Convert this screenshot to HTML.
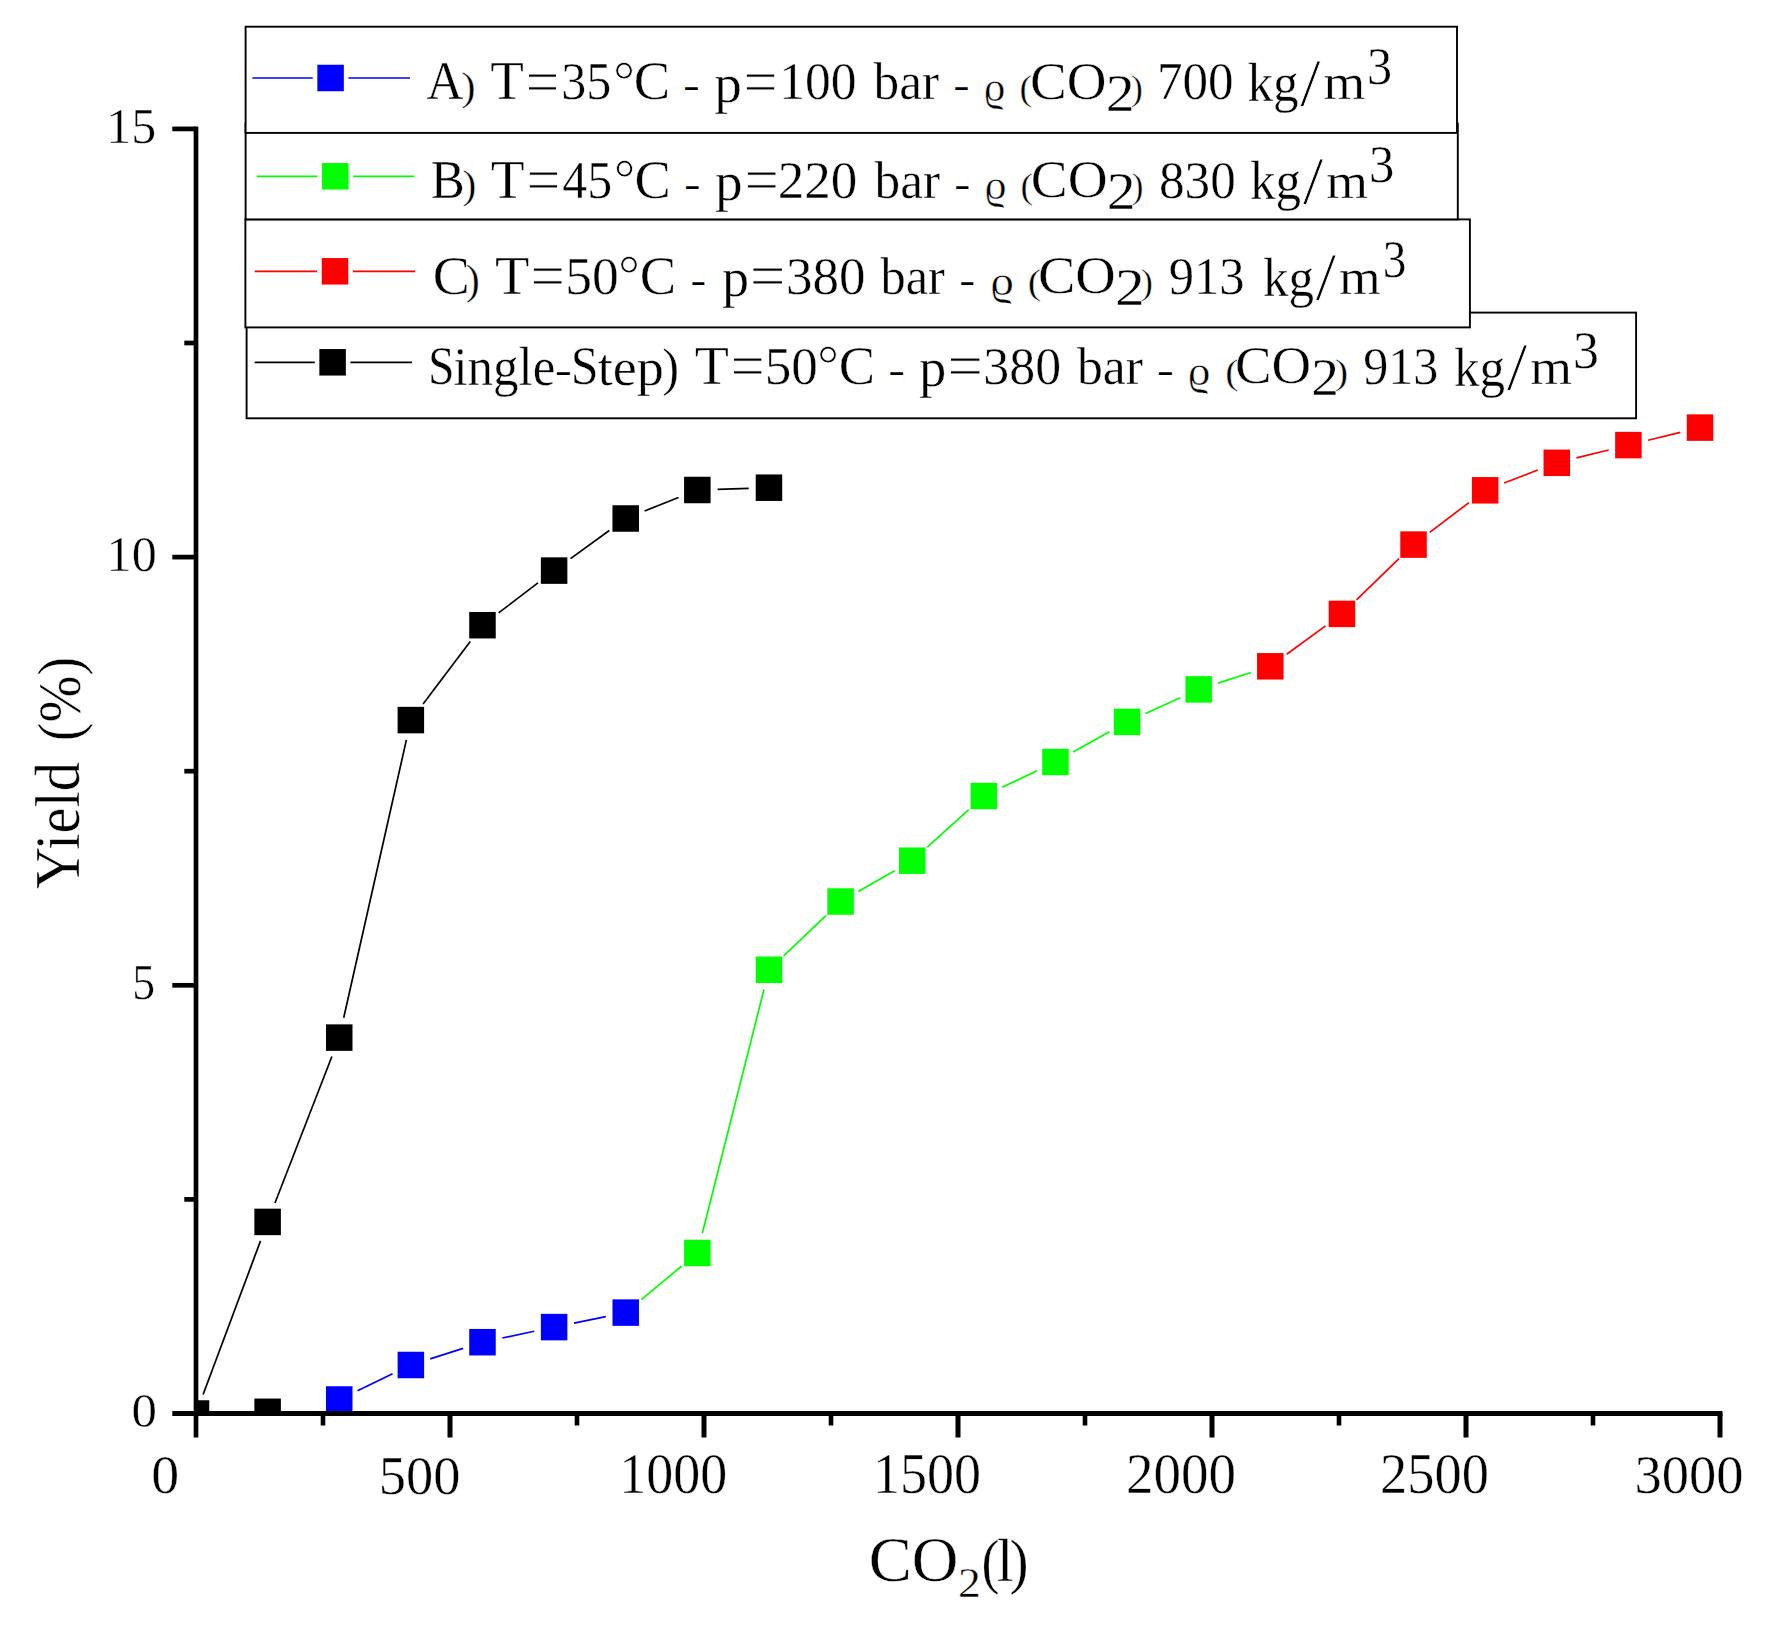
<!DOCTYPE html>
<html lang="en"><head><meta charset="utf-8"><title>Yield vs CO2</title>
<style>html,body{margin:0;padding:0;background:#fff}svg{display:block}text{font-family:"Liberation Serif", serif;vector-effect:non-scaling-stroke}</style>
</head><body>
<svg width="1771" height="1628" viewBox="0 0 1771 1628" font-family='"Liberation Serif", serif' fill="#000">
<rect width="1771" height="1628" fill="#fff"/>
<defs><clipPath id="plot"><rect x="196.0" y="0" width="1600" height="1413.5"/></clipPath></defs>
<g clip-path="url(#plot)">
<line x1="203.11" y1="1394.49" x2="260.51" y2="1240.91" stroke="#000000" stroke-width="1.7"/>
<line x1="274.97" y1="1202.98" x2="331.89" y2="1056.52" stroke="#000000" stroke-width="1.7"/>
<line x1="343.71" y1="1017.80" x2="406.39" y2="739.90" stroke="#000000" stroke-width="1.7"/>
<line x1="423.09" y1="703.90" x2="470.25" y2="641.40" stroke="#000000" stroke-width="1.7"/>
<line x1="498.62" y1="612.89" x2="537.96" y2="582.91" stroke="#000000" stroke-width="1.7"/>
<line x1="570.52" y1="558.66" x2="609.30" y2="530.44" stroke="#000000" stroke-width="1.7"/>
<line x1="644.58" y1="510.99" x2="678.48" y2="497.51" stroke="#000000" stroke-width="1.7"/>
<line x1="717.63" y1="489.35" x2="748.67" y2="488.35" stroke="#000000" stroke-width="1.7"/>
<line x1="357.53" y1="1390.69" x2="392.57" y2="1373.81" stroke="#0000ff" stroke-width="1.7"/>
<line x1="430.20" y1="1358.84" x2="463.14" y2="1348.36" stroke="#0000ff" stroke-width="1.7"/>
<line x1="502.34" y1="1338.01" x2="534.24" y2="1331.29" stroke="#0000ff" stroke-width="1.7"/>
<line x1="574.00" y1="1323.07" x2="605.82" y2="1316.63" stroke="#0000ff" stroke-width="1.7"/>
<line x1="641.32" y1="1299.61" x2="681.74" y2="1265.99" stroke="#00ff00" stroke-width="1.7"/>
<line x1="702.32" y1="1233.32" x2="763.98" y2="989.48" stroke="#00ff00" stroke-width="1.7"/>
<line x1="783.65" y1="955.79" x2="825.89" y2="915.51" stroke="#00ff00" stroke-width="1.7"/>
<line x1="858.22" y1="891.45" x2="894.56" y2="870.75" stroke="#00ff00" stroke-width="1.7"/>
<line x1="927.26" y1="847.09" x2="968.76" y2="809.61" stroke="#00ff00" stroke-width="1.7"/>
<line x1="1002.16" y1="787.29" x2="1037.10" y2="770.71" stroke="#00ff00" stroke-width="1.7"/>
<line x1="1073.15" y1="752.08" x2="1109.35" y2="731.82" stroke="#00ff00" stroke-width="1.7"/>
<line x1="1145.55" y1="713.51" x2="1180.19" y2="697.79" stroke="#00ff00" stroke-width="1.7"/>
<line x1="1218.00" y1="683.17" x2="1250.98" y2="672.53" stroke="#00ff00" stroke-width="1.7"/>
<line x1="1286.68" y1="654.31" x2="1325.54" y2="625.89" stroke="#ff0000" stroke-width="1.7"/>
<line x1="1356.51" y1="599.78" x2="1398.95" y2="558.72" stroke="#ff0000" stroke-width="1.7"/>
<line x1="1429.72" y1="532.34" x2="1468.98" y2="502.56" stroke="#ff0000" stroke-width="1.7"/>
<line x1="1504.11" y1="483.02" x2="1537.83" y2="470.08" stroke="#ff0000" stroke-width="1.7"/>
<line x1="1576.49" y1="457.93" x2="1608.69" y2="449.97" stroke="#ff0000" stroke-width="1.7"/>
<line x1="1648.12" y1="440.28" x2="1680.30" y2="432.42" stroke="#ff0000" stroke-width="1.7"/>
<rect x="182.75" y="1400.25" width="26.5" height="26.5" fill="#000000"/>
<rect x="254.37" y="1208.65" width="26.5" height="26.5" fill="#000000"/>
<rect x="325.99" y="1024.35" width="26.5" height="26.5" fill="#000000"/>
<rect x="397.61" y="706.85" width="26.5" height="26.5" fill="#000000"/>
<rect x="469.23" y="611.95" width="26.5" height="26.5" fill="#000000"/>
<rect x="540.85" y="557.35" width="26.5" height="26.5" fill="#000000"/>
<rect x="612.47" y="505.25" width="26.5" height="26.5" fill="#000000"/>
<rect x="684.09" y="476.75" width="26.5" height="26.5" fill="#000000"/>
<rect x="755.71" y="474.45" width="26.5" height="26.5" fill="#000000"/>
<rect x="254.37" y="1398.55" width="26.5" height="26.5" fill="#000000"/>
<rect x="325.99" y="1386.25" width="26.5" height="26.5" fill="#0000ff"/>
<rect x="397.61" y="1351.75" width="26.5" height="26.5" fill="#0000ff"/>
<rect x="469.23" y="1328.95" width="26.5" height="26.5" fill="#0000ff"/>
<rect x="540.85" y="1313.85" width="26.5" height="26.5" fill="#0000ff"/>
<rect x="612.47" y="1299.35" width="26.5" height="26.5" fill="#0000ff"/>
<rect x="684.09" y="1239.75" width="26.5" height="26.5" fill="#00ff00"/>
<rect x="755.71" y="956.55" width="26.5" height="26.5" fill="#00ff00"/>
<rect x="827.33" y="888.25" width="26.5" height="26.5" fill="#00ff00"/>
<rect x="898.95" y="847.45" width="26.5" height="26.5" fill="#00ff00"/>
<rect x="970.57" y="782.75" width="26.5" height="26.5" fill="#00ff00"/>
<rect x="1042.19" y="748.75" width="26.5" height="26.5" fill="#00ff00"/>
<rect x="1113.81" y="708.65" width="26.5" height="26.5" fill="#00ff00"/>
<rect x="1185.43" y="676.15" width="26.5" height="26.5" fill="#00ff00"/>
<rect x="1257.05" y="653.05" width="26.5" height="26.5" fill="#ff0000"/>
<rect x="1328.67" y="600.65" width="26.5" height="26.5" fill="#ff0000"/>
<rect x="1400.29" y="531.35" width="26.5" height="26.5" fill="#ff0000"/>
<rect x="1471.91" y="477.05" width="26.5" height="26.5" fill="#ff0000"/>
<rect x="1543.53" y="449.55" width="26.5" height="26.5" fill="#ff0000"/>
<rect x="1615.15" y="431.85" width="26.5" height="26.5" fill="#ff0000"/>
<rect x="1686.77" y="414.35" width="26.5" height="26.5" fill="#ff0000"/>
</g>
<g>
<rect x="193.65" y="126.55" width="4.7" height="1310.95" fill="#000"/>
<rect x="172.3" y="1411.00" width="1550.20" height="5" fill="#000"/>
<rect x="172.3" y="982.95" width="23.70" height="4.7" fill="#000"/>
<rect x="172.3" y="554.75" width="23.70" height="4.7" fill="#000"/>
<rect x="172.3" y="126.55" width="23.70" height="4.7" fill="#000"/>
<rect x="184.3" y="1197.05" width="11.70" height="4.7" fill="#000"/>
<rect x="184.3" y="768.85" width="11.70" height="4.7" fill="#000"/>
<rect x="184.3" y="340.65" width="11.70" height="4.7" fill="#000"/>
<rect x="447.50" y="1413.50" width="5" height="24.00" fill="#000"/>
<rect x="701.50" y="1413.50" width="5" height="24.00" fill="#000"/>
<rect x="955.50" y="1413.50" width="5" height="24.00" fill="#000"/>
<rect x="1209.50" y="1413.50" width="5" height="24.00" fill="#000"/>
<rect x="1463.50" y="1413.50" width="5" height="24.00" fill="#000"/>
<rect x="1717.50" y="1413.50" width="5" height="24.00" fill="#000"/>
<rect x="320.70" y="1413.50" width="4.6" height="12.00" fill="#000"/>
<rect x="574.70" y="1413.50" width="4.6" height="12.00" fill="#000"/>
<rect x="828.70" y="1413.50" width="4.6" height="12.00" fill="#000"/>
<rect x="1082.70" y="1413.50" width="4.6" height="12.00" fill="#000"/>
<rect x="1336.70" y="1413.50" width="4.6" height="12.00" fill="#000"/>
<rect x="1590.70" y="1413.50" width="4.6" height="12.00" fill="#000"/>
</g>
<g>
<rect x="246.6" y="312.6" width="1389.50" height="105.70" fill="#fff" stroke="#000" stroke-width="1.9"/>
<rect x="245.4" y="219.4" width="1224.50" height="108.00" fill="#fff" stroke="#000" stroke-width="1.9"/>
<rect x="245.6" y="123.5" width="1212.20" height="95.90" fill="#fff" stroke="#000" stroke-width="1.9"/>
<rect x="245.6" y="26.7" width="1211.40" height="106.20" fill="#fff" stroke="#000" stroke-width="1.9"/>
<line x1="252.4" y1="78.0" x2="312.75" y2="78.0" stroke="#0000ff" stroke-width="1.7"/><line x1="348.45" y1="78.0" x2="410.0" y2="78.0" stroke="#0000ff" stroke-width="1.7"/><rect x="317.35" y="64.75" width="26.5" height="26.5" fill="#0000ff"/>
<line x1="256.7" y1="176.3" x2="317.45" y2="176.3" stroke="#00ff00" stroke-width="1.7"/><line x1="353.15" y1="176.3" x2="414.2" y2="176.3" stroke="#00ff00" stroke-width="1.7"/><rect x="322.05" y="163.05" width="26.5" height="26.5" fill="#00ff00"/>
<line x1="254.7" y1="271.3" x2="317.15" y2="271.3" stroke="#ff0000" stroke-width="1.7"/><line x1="352.85" y1="271.3" x2="415.3" y2="271.3" stroke="#ff0000" stroke-width="1.7"/><rect x="321.75" y="258.05" width="26.5" height="26.5" fill="#ff0000"/>
<line x1="254.7" y1="362.3" x2="314.75" y2="362.3" stroke="#000000" stroke-width="1.7"/><line x1="350.45" y1="362.3" x2="411.9" y2="362.3" stroke="#000000" stroke-width="1.7"/><rect x="319.35" y="349.05" width="26.5" height="26.5" fill="#000000"/>
</g>
<g style="white-space:pre" stroke="#fff" stroke-width="0.4" vector-effect="non-scaling-stroke">
<text><tspan x="426.60" y="99.40" font-size="54.60" textLength="36.86" lengthAdjust="spacingAndGlyphs">A</tspan><tspan x="461.31" y="100.18" font-size="40.11" textLength="14.34" lengthAdjust="spacingAndGlyphs">)</tspan> <tspan x="490.20" y="99.40" font-size="54.60" textLength="33.65" lengthAdjust="spacingAndGlyphs">T</tspan><tspan x="525.49" y="103.07" font-size="63.20" textLength="33.96" lengthAdjust="spacingAndGlyphs" stroke-width="1.0">=</tspan><tspan x="561.30" y="99.40" font-size="52.60" textLength="50.04" lengthAdjust="spacingAndGlyphs">35</tspan><tspan x="613.14" y="98.54" font-size="55.67" textLength="21.62" lengthAdjust="spacingAndGlyphs" stroke-width="0.8">°</tspan><tspan x="633.80" y="99.40" font-size="54.60" textLength="36.41" lengthAdjust="spacingAndGlyphs">C</tspan> <tspan x="683.23" y="97.30" font-size="35.00" textLength="16.28" lengthAdjust="spacingAndGlyphs" stroke-width="0.01">-</tspan> <tspan x="714.25" y="101.50" font-size="55.22" textLength="27.61" lengthAdjust="spacingAndGlyphs">p</tspan><tspan x="743.15" y="103.07" font-size="63.20" textLength="34.54" lengthAdjust="spacingAndGlyphs" stroke-width="1.0">=</tspan><tspan x="779.18" y="99.40" font-size="52.60" textLength="77.40" lengthAdjust="spacingAndGlyphs">100</tspan> <tspan x="873.50" y="99.37" font-size="52.86" textLength="65.45" lengthAdjust="spacingAndGlyphs">bar</tspan> <tspan x="953.57" y="97.30" font-size="35.00" textLength="15.91" lengthAdjust="spacingAndGlyphs" stroke-width="0.01">-</tspan> <tspan x="983.81" y="101.01" font-size="40.43" textLength="21.51" lengthAdjust="spacingAndGlyphs">ϱ</tspan> <tspan x="1019.59" y="99.98" font-size="35.98" textLength="12.58" lengthAdjust="spacingAndGlyphs">(</tspan><tspan x="1030.10" y="98.74" font-size="52.94" textLength="76.47" lengthAdjust="spacingAndGlyphs">CO</tspan><tspan x="1105.89" y="110.67" font-size="52.69" textLength="28.90" lengthAdjust="spacingAndGlyphs">2</tspan><tspan x="1130.80" y="99.98" font-size="35.98" textLength="12.17" lengthAdjust="spacingAndGlyphs">)</tspan> <tspan x="1156.89" y="99.40" font-size="52.60" textLength="76.57" lengthAdjust="spacingAndGlyphs">700</tspan> <tspan x="1247.39" y="101.15" font-size="55.00" textLength="51.02" lengthAdjust="spacingAndGlyphs">kg</tspan><tspan x="1300.10" y="104.76" font-size="66.87" textLength="20.64" lengthAdjust="spacingAndGlyphs" stroke-width="0.8">/</tspan><tspan x="1323.63" y="99.40" font-size="49.79" textLength="41.80" lengthAdjust="spacingAndGlyphs">m</tspan><tspan x="1366.99" y="83.75" font-size="52.65" textLength="25.12" lengthAdjust="spacingAndGlyphs">3</tspan></text>
<text><tspan x="430.76" y="197.70" font-size="54.60" textLength="34.10" lengthAdjust="spacingAndGlyphs">B</tspan><tspan x="462.55" y="198.48" font-size="40.11" textLength="13.83" lengthAdjust="spacingAndGlyphs">)</tspan> <tspan x="490.80" y="197.70" font-size="54.60" textLength="33.85" lengthAdjust="spacingAndGlyphs">T</tspan><tspan x="526.26" y="201.37" font-size="63.20" textLength="34.43" lengthAdjust="spacingAndGlyphs" stroke-width="1.0">=</tspan><tspan x="562.25" y="197.70" font-size="52.60" textLength="49.88" lengthAdjust="spacingAndGlyphs">45</tspan><tspan x="613.89" y="196.84" font-size="55.67" textLength="21.12" lengthAdjust="spacingAndGlyphs" stroke-width="0.8">°</tspan><tspan x="634.61" y="197.70" font-size="54.60" textLength="36.30" lengthAdjust="spacingAndGlyphs">C</tspan> <tspan x="684.26" y="195.60" font-size="35.00" textLength="16.03" lengthAdjust="spacingAndGlyphs" stroke-width="0.01">-</tspan> <tspan x="715.05" y="199.80" font-size="55.22" textLength="27.61" lengthAdjust="spacingAndGlyphs">p</tspan><tspan x="744.23" y="201.37" font-size="63.20" textLength="34.78" lengthAdjust="spacingAndGlyphs" stroke-width="1.0">=</tspan><tspan x="777.68" y="197.70" font-size="52.60" textLength="79.63" lengthAdjust="spacingAndGlyphs">220</tspan> <tspan x="874.50" y="197.67" font-size="52.86" textLength="65.45" lengthAdjust="spacingAndGlyphs">bar</tspan> <tspan x="954.60" y="195.60" font-size="35.00" textLength="15.54" lengthAdjust="spacingAndGlyphs" stroke-width="0.01">-</tspan> <tspan x="984.47" y="199.31" font-size="40.43" textLength="21.97" lengthAdjust="spacingAndGlyphs">ϱ</tspan> <tspan x="1020.59" y="198.28" font-size="35.98" textLength="12.58" lengthAdjust="spacingAndGlyphs">(</tspan><tspan x="1030.79" y="197.04" font-size="52.94" textLength="76.79" lengthAdjust="spacingAndGlyphs">CO</tspan><tspan x="1106.89" y="208.97" font-size="52.69" textLength="28.90" lengthAdjust="spacingAndGlyphs">2</tspan><tspan x="1131.85" y="198.28" font-size="35.98" textLength="11.66" lengthAdjust="spacingAndGlyphs">)</tspan> <tspan x="1159.06" y="197.70" font-size="52.60" textLength="76.71" lengthAdjust="spacingAndGlyphs">830</tspan> <tspan x="1250.09" y="199.45" font-size="55.00" textLength="51.02" lengthAdjust="spacingAndGlyphs">kg</tspan><tspan x="1302.80" y="203.06" font-size="66.87" textLength="20.64" lengthAdjust="spacingAndGlyphs" stroke-width="0.8">/</tspan><tspan x="1326.33" y="197.70" font-size="49.79" textLength="41.80" lengthAdjust="spacingAndGlyphs">m</tspan><tspan x="1368.97" y="182.05" font-size="52.65" textLength="25.35" lengthAdjust="spacingAndGlyphs">3</tspan></text>
<text><tspan x="432.66" y="293.80" font-size="54.60" textLength="37.10" lengthAdjust="spacingAndGlyphs">C</tspan><tspan x="465.73" y="294.29" font-size="41.41" textLength="14.09" lengthAdjust="spacingAndGlyphs">)</tspan> <tspan x="494.90" y="293.80" font-size="54.60" textLength="34.36" lengthAdjust="spacingAndGlyphs">T</tspan><tspan x="530.33" y="297.47" font-size="63.20" textLength="34.78" lengthAdjust="spacingAndGlyphs" stroke-width="1.0">=</tspan><tspan x="565.24" y="293.80" font-size="52.60" textLength="53.58" lengthAdjust="spacingAndGlyphs">50</tspan><tspan x="618.25" y="292.94" font-size="55.67" textLength="21.49" lengthAdjust="spacingAndGlyphs" stroke-width="0.8">°</tspan><tspan x="639.70" y="293.80" font-size="54.60" textLength="36.41" lengthAdjust="spacingAndGlyphs">C</tspan> <tspan x="690.83" y="291.70" font-size="35.00" textLength="15.17" lengthAdjust="spacingAndGlyphs" stroke-width="0.01">-</tspan> <tspan x="721.96" y="295.90" font-size="55.22" textLength="27.07" lengthAdjust="spacingAndGlyphs">p</tspan><tspan x="749.66" y="297.47" font-size="63.20" textLength="35.84" lengthAdjust="spacingAndGlyphs" stroke-width="1.0">=</tspan><tspan x="786.08" y="293.80" font-size="52.60" textLength="79.52" lengthAdjust="spacingAndGlyphs">380</tspan> <tspan x="880.50" y="293.77" font-size="52.86" textLength="64.25" lengthAdjust="spacingAndGlyphs">bar</tspan> <tspan x="959.51" y="291.70" font-size="35.00" textLength="15.42" lengthAdjust="spacingAndGlyphs" stroke-width="0.01">-</tspan> <tspan x="990.15" y="295.41" font-size="40.43" textLength="23.59" lengthAdjust="spacingAndGlyphs">ϱ</tspan> <tspan x="1027.69" y="294.38" font-size="35.98" textLength="13.44" lengthAdjust="spacingAndGlyphs">(</tspan><tspan x="1037.96" y="293.14" font-size="52.94" textLength="77.84" lengthAdjust="spacingAndGlyphs">CO</tspan><tspan x="1115.02" y="305.07" font-size="52.69" textLength="29.76" lengthAdjust="spacingAndGlyphs">2</tspan><tspan x="1140.70" y="294.38" font-size="35.98" textLength="12.17" lengthAdjust="spacingAndGlyphs">)</tspan> <tspan x="1168.74" y="293.80" font-size="52.60" textLength="75.91" lengthAdjust="spacingAndGlyphs">913</tspan> <tspan x="1262.89" y="295.55" font-size="55.00" textLength="51.02" lengthAdjust="spacingAndGlyphs">kg</tspan><tspan x="1315.60" y="299.16" font-size="66.87" textLength="20.64" lengthAdjust="spacingAndGlyphs" stroke-width="0.8">/</tspan><tspan x="1339.13" y="293.80" font-size="49.79" textLength="41.80" lengthAdjust="spacingAndGlyphs">m</tspan><tspan x="1382.71" y="277.15" font-size="52.65" textLength="23.60" lengthAdjust="spacingAndGlyphs">3</tspan></text>
<text><tspan x="427.98" y="383.80" font-size="54.60" textLength="26.57" lengthAdjust="spacingAndGlyphs">S</tspan><tspan x="453.48" y="384.94" font-size="54.56" textLength="101.84" lengthAdjust="spacingAndGlyphs">ingle</tspan><tspan x="555.10" y="381.70" font-size="35.00" textLength="16.65" lengthAdjust="spacingAndGlyphs" stroke-width="0.01">-</tspan><tspan x="570.75" y="383.80" font-size="54.60" textLength="27.83" lengthAdjust="spacingAndGlyphs">S</tspan><tspan x="597.70" y="385.49" font-size="51.95" textLength="66.23" lengthAdjust="spacingAndGlyphs">tep</tspan><tspan x="662.28" y="384.80" font-size="52.72" textLength="16.91" lengthAdjust="spacingAndGlyphs">)</tspan> <tspan x="694.70" y="383.80" font-size="54.60" textLength="34.16" lengthAdjust="spacingAndGlyphs">T</tspan><tspan x="730.46" y="387.47" font-size="63.20" textLength="34.43" lengthAdjust="spacingAndGlyphs" stroke-width="1.0">=</tspan><tspan x="764.77" y="383.80" font-size="52.60" textLength="53.14" lengthAdjust="spacingAndGlyphs">50</tspan><tspan x="817.34" y="382.94" font-size="55.67" textLength="21.62" lengthAdjust="spacingAndGlyphs" stroke-width="0.8">°</tspan><tspan x="838.81" y="383.80" font-size="54.60" textLength="36.30" lengthAdjust="spacingAndGlyphs">C</tspan> <tspan x="888.53" y="381.70" font-size="35.00" textLength="16.28" lengthAdjust="spacingAndGlyphs" stroke-width="0.01">-</tspan> <tspan x="918.95" y="385.90" font-size="55.22" textLength="27.28" lengthAdjust="spacingAndGlyphs">p</tspan><tspan x="947.16" y="387.47" font-size="63.20" textLength="35.84" lengthAdjust="spacingAndGlyphs" stroke-width="1.0">=</tspan><tspan x="983.33" y="383.80" font-size="52.60" textLength="77.75" lengthAdjust="spacingAndGlyphs">380</tspan> <tspan x="1077.00" y="383.77" font-size="52.86" textLength="65.96" lengthAdjust="spacingAndGlyphs">bar</tspan> <tspan x="1157.00" y="381.70" font-size="35.00" textLength="16.65" lengthAdjust="spacingAndGlyphs" stroke-width="0.01">-</tspan> <tspan x="1187.73" y="385.41" font-size="40.43" textLength="22.55" lengthAdjust="spacingAndGlyphs">ϱ</tspan> <tspan x="1225.20" y="384.38" font-size="35.98" textLength="13.32" lengthAdjust="spacingAndGlyphs">(</tspan><tspan x="1235.01" y="383.14" font-size="52.94" textLength="76.16" lengthAdjust="spacingAndGlyphs">CO</tspan><tspan x="1311.19" y="395.07" font-size="52.69" textLength="27.68" lengthAdjust="spacingAndGlyphs">2</tspan><tspan x="1334.89" y="384.38" font-size="35.98" textLength="13.45" lengthAdjust="spacingAndGlyphs">)</tspan> <tspan x="1363.25" y="383.80" font-size="52.60" textLength="75.09" lengthAdjust="spacingAndGlyphs">913</tspan> <tspan x="1454.09" y="385.55" font-size="55.00" textLength="51.02" lengthAdjust="spacingAndGlyphs">kg</tspan><tspan x="1506.80" y="389.16" font-size="66.87" textLength="20.64" lengthAdjust="spacingAndGlyphs" stroke-width="0.8">/</tspan><tspan x="1530.33" y="383.80" font-size="49.79" textLength="41.80" lengthAdjust="spacingAndGlyphs">m</tspan><tspan x="1572.93" y="368.15" font-size="52.65" textLength="25.93" lengthAdjust="spacingAndGlyphs">3</tspan></text>
<text><tspan x="106.21" y="142.99" font-size="50.59" textLength="49.89" lengthAdjust="spacingAndGlyphs">15</tspan></text>
<text><tspan x="106.59" y="570.80" font-size="50.00" textLength="50.11" lengthAdjust="spacingAndGlyphs">10</tspan></text>
<text><tspan x="132.21" y="999.39" font-size="50.60" textLength="22.86" lengthAdjust="spacingAndGlyphs">5</tspan></text>
<text><tspan x="131.47" y="1426.71" font-size="49.41" textLength="25.45" lengthAdjust="spacingAndGlyphs">0</tspan></text>
<text><tspan x="151.22" y="1493.39" font-size="55.29" textLength="27.95" lengthAdjust="spacingAndGlyphs">0</tspan></text>
<text><tspan x="378.78" y="1493.69" font-size="55.74" textLength="81.65" lengthAdjust="spacingAndGlyphs">500</tspan></text>
<text><tspan x="619.28" y="1493.47" font-size="56.47" textLength="107.94" lengthAdjust="spacingAndGlyphs">1000</tspan></text>
<text><tspan x="872.88" y="1493.47" font-size="56.47" textLength="108.04" lengthAdjust="spacingAndGlyphs">1500</tspan></text>
<text><tspan x="1126.00" y="1493.47" font-size="56.47" textLength="110.05" lengthAdjust="spacingAndGlyphs">2000</tspan></text>
<text><tspan x="1380.12" y="1493.47" font-size="56.47" textLength="108.91" lengthAdjust="spacingAndGlyphs">2500</tspan></text>
<text><tspan x="1634.52" y="1493.38" font-size="55.88" textLength="109.02" lengthAdjust="spacingAndGlyphs">3000</tspan></text>
<text><tspan x="868.72" y="1580.74" font-size="63.24" textLength="89.66" lengthAdjust="spacingAndGlyphs">CO</tspan><tspan x="958.08" y="1596.78" font-size="42.09" textLength="22.80" lengthAdjust="spacingAndGlyphs">2</tspan><tspan x="981.54" y="1582.11" font-size="61.30" textLength="18.01" lengthAdjust="spacingAndGlyphs">(</tspan><tspan x="996.79" y="1580.80" font-size="61.74" textLength="16.79" lengthAdjust="spacingAndGlyphs">l</tspan><tspan x="1009.58" y="1582.11" font-size="61.30" textLength="19.08" lengthAdjust="spacingAndGlyphs">)</tspan></text>
<text transform="rotate(-90)"><tspan x="-888.99" y="79.08" font-size="62.43" textLength="126.97" lengthAdjust="spacingAndGlyphs">Yield</tspan> <tspan x="-741.25" y="80.17" font-size="61.96" textLength="84.48" lengthAdjust="spacingAndGlyphs">(%)</tspan></text>
</g>
</svg>
</body></html>
